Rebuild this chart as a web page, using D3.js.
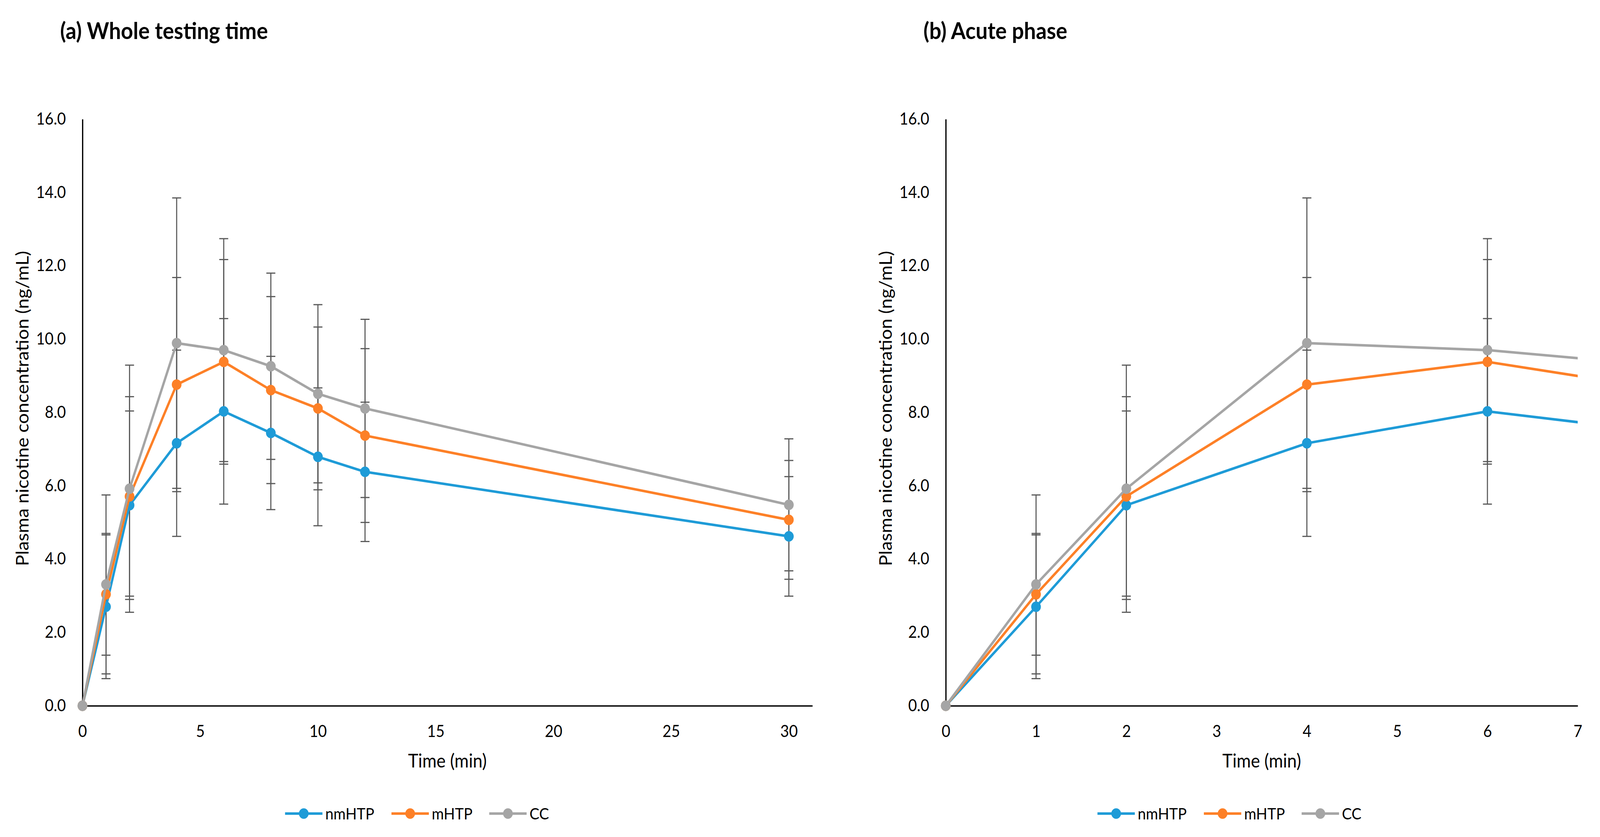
<!DOCTYPE html>
<html>
<head>
<meta charset="utf-8">
<script src="https://cdn.jsdelivr.net/npm/d3@7"></script>
<style>
  html, body { margin: 0; padding: 0; background: #fff; overflow: hidden; }
  #chart { width: 100vw; height: 100vh; }
  svg { display: block; }
  text { font-family: Lato, "Open Sans", sans-serif; fill: #000; }
</style>
</head>
<body>
<div id="chart"></div>
<script>
// sampling times (min)
var times = [0, 1, 2, 4, 6, 8, 10, 12, 30];

// mean plasma nicotine (ng/mL) and SD
var nmHTP   = [0, 2.70, 5.47, 7.16, 8.03, 7.44, 6.79, 6.38, 4.62];
var nmHTPsd = [0, 1.96, 2.57, 2.54, 2.53, 2.09, 1.88, 1.90, 1.63];
var mHTP    = [0, 3.04, 5.71, 8.76, 9.38, 8.61, 8.11, 7.37, 5.07];
var mHTPsd  = [0, 1.66, 2.72, 2.92, 2.79, 2.55, 2.22, 2.37, 1.62];
var CC      = [0, 3.31, 5.92, 9.89, 9.70, 9.26, 8.51, 8.11, 5.48];
var CCsd    = [0, 2.44, 3.37, 3.96, 3.04, 2.54, 2.43, 2.43, 1.80];

var seriesNames = ["nmHTP", "mHTP", "CC"];
var yTicks = [0, 2, 4, 6, 8, 10, 12, 14, 16];
var xTicksA = [0, 5, 10, 15, 20, 25, 30];
var xTicksB = [0, 1, 2, 3, 4, 5, 6, 7];

var colors = { nmHTP: "#1E9BD7", mHTP: "#FD8027", CC: "#A5A5A5" };
var errColor = "#595959";

// drawn in a 4451x2143 frame, stretched to whatever the window is
var W = 4451, H = 2143;
var svg = d3.select("#chart").append("svg")
    .attr("viewBox", "0 0 " + W + " " + H)
    .attr("preserveAspectRatio", "none")
    .attr("width", "100%")
    .attr("height", "100%");

var series = [
    { name: "nmHTP", mean: nmHTP, sd: nmHTPsd },
    { name: "mHTP", mean: mHTP, sd: mHTPsd },
    { name: "CC", mean: CC, sd: CCsd }
];

/*
  drawPanel

  opt.left, opt.right: pixel extent of the x axis
  opt.xMax: upper end of the time axis
  opt.ticks: x tick values
  opt.title: panel title
  opt.legendX: x of the first legend entry (line start)
*/
function drawPanel(opt) {
    var top = 305, bottom = 1807;

    var x = d3.scaleLinear().domain([0, opt.xMax]).range([opt.left, opt.right]);
    var y = d3.scaleLinear().domain([0, 16]).range([bottom, top]);

    var g = svg.append("g");

    var clipId = "clip" + opt.id;
    svg.append("clipPath").attr("id", clipId)
        .append("rect")
        .attr("x", opt.left - 20)
        .attr("y", top - 20)
        .attr("width", opt.right - opt.left + 20)
        .attr("height", bottom - top + 40);

    // title
    g.append("text")
        .attr("x", opt.left - 62)
        .attr("y", 100)
        .style("font-size", "59px")
        .style("font-weight", "bold")
        .text(opt.title);

    // axes
    var yAxis = d3.axisLeft(y)
        .tickValues(yTicks)
        .tickFormat(d3.format(".1f"))
        .tickSize(0)
        .tickPadding(46);
    var gy = g.append("g")
        .attr("transform", "translate(" + opt.left + ",0)")
        .call(yAxis);

    var xAxis = d3.axisBottom(x)
        .tickValues(opt.ticks)
        .tickFormat(d3.format("d"))
        .tickSize(0)
        .tickPadding(50);
    var gx = g.append("g")
        .attr("transform", "translate(0," + bottom + ")")
        .call(xAxis);

    [gx, gy].forEach(function(a) {
        a.select(".domain").attr("stroke", "#000").attr("stroke-width", 3.5);
        a.selectAll("text")
            .style("font-size", "42px")
            .style("font-family", "Lato, 'Open Sans', sans-serif")
            .attr("fill", "#000");
    });

    // axis titles
    g.append("text")
        .attr("transform", "translate(" + (opt.left - 167) + "," + ((top + bottom) / 2 - 10) + ") rotate(-90)")
        .attr("text-anchor", "middle")
        .attr("dy", "0.35em")
        .style("font-size", "48px")
        .text("Plasma nicotine concentration (ng/mL)");

    g.append("text")
        .attr("x", (opt.left + opt.right) / 2)
        .attr("y", 1948)
        .attr("dy", "0.35em")
        .attr("text-anchor", "middle")
        .style("font-size", "48px")
        .text("Time (min)");

    var plot = g.append("g").attr("clip-path", "url(#" + clipId + ")");

    // error bars
    var capHalf = 12.5;
    series.forEach(function(s) {
        var eb = plot.append("g")
            .attr("stroke", errColor)
            .attr("stroke-width", 3)
            .attr("fill", "none");
        times.forEach(function(t, i) {
            if (s.sd[i] <= 0) return;
            var cx = x(t),
                yHi = y(s.mean[i] + s.sd[i]),
                yLo = y(s.mean[i] - s.sd[i]);
            eb.append("line").attr("x1", cx).attr("x2", cx).attr("y1", yHi).attr("y2", yLo);
            eb.append("line").attr("x1", cx - capHalf).attr("x2", cx + capHalf).attr("y1", yHi).attr("y2", yHi);
            eb.append("line").attr("x1", cx - capHalf).attr("x2", cx + capHalf).attr("y1", yLo).attr("y2", yLo);
        });
    });

    // lines and markers
    var line = d3.line()
        .x(function(d) { return x(d[0]); })
        .y(function(d) { return y(d[1]); });

    series.forEach(function(s) {
        var pts = times.map(function(t, i) { return [t, s.mean[i]]; });
        plot.append("path")
            .datum(pts)
            .attr("d", line)
            .attr("fill", "none")
            .attr("stroke", colors[s.name])
            .attr("stroke-width", 6.5)
            .attr("stroke-linejoin", "round");
        plot.selectAll(".pt-" + s.name)
            .data(pts.filter(function(d) { return d[0] <= opt.xMax; }))
            .enter()
            .append("circle")
            .attr("class", "pt-" + s.name)
            .attr("cx", function(d) { return x(d[0]); })
            .attr("cy", function(d) { return y(d[1]); })
            .attr("r", 13.5)
            .attr("fill", colors[s.name]);
    });

    // legend
    var legendY = 2083;
    var offsets = [0, 296, 568];
    seriesNames.forEach(function(name, i) {
        var lx = opt.legendX + offsets[i];
        var lg = g.append("g");
        lg.append("line")
            .attr("x1", lx).attr("x2", lx + 104)
            .attr("y1", legendY).attr("y2", legendY)
            .attr("stroke", colors[name])
            .attr("stroke-width", 6.5);
        lg.append("circle")
            .attr("cx", lx + 52).attr("cy", legendY)
            .attr("r", 13.5)
            .attr("fill", colors[name]);
        lg.append("text")
            .attr("x", lx + 112)
            .attr("y", legendY)
            .attr("dy", "0.36em")
            .style("font-size", "41px")
            .text(name);
    });
}

drawPanel({
    id: "a",
    left: 229.4,
    right: 2260,
    xMax: 31,
    ticks: xTicksA,
    title: "(a) Whole testing time",
    legendX: 793
});

drawPanel({
    id: "b",
    left: 2631,
    right: 4389,
    xMax: 7,
    ticks: xTicksB,
    title: "(b) Acute phase",
    legendX: 3053
});
</script>
</body>
</html>
